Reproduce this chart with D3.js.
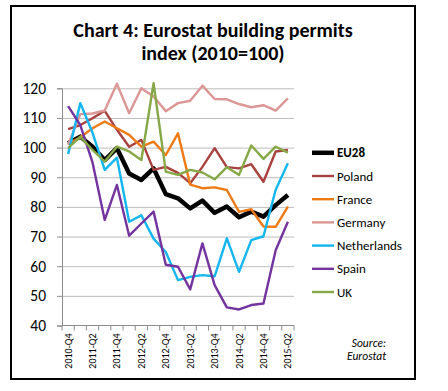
<!DOCTYPE html>
<html>
<head>
<meta charset="utf-8">
<script src="https://cdn.jsdelivr.net/npm/d3@7"></script>
<style>
  body { margin: 0; background: #fff; }
  text { font-family: Carlito, Lato, "Open Sans", sans-serif; fill: #000; }
</style>
</head>
<body>
<div id="chart"></div>
<script>
// data
const quarters = ["2010-Q4","2011-Q1","2011-Q2","2011-Q3","2011-Q4","2012-Q1","2012-Q2","2012-Q3","2012-Q4",
  "2013-Q1","2013-Q2","2013-Q3","2013-Q4","2014-Q1","2014-Q2","2014-Q3","2014-Q4","2015-Q1","2015-Q2"];
const eu28 = [101.5, 103.7, 100.3, 95.8, 99.8, 91.3, 89.1, 93.0, 84.3, 82.9, 79.5, 82.1, 78.0, 80.1, 76.5, 78.4, 76.7, 80.6, 84.0];
const poland = [106.2, 107.6, 109.9, 112.4, 106.0, 100.3, 102.6, 92.5, 93.5, 91.5, 88.0, 93.5, 99.8, 93.4, 93.0, 94.4, 88.5, 98.7, 99.2];
const france = [101.3, 103.5, 106.5, 108.8, 106.5, 104.3, 100.3, 102.0, 97.5, 104.8, 87.5, 86.3, 86.6, 85.7, 78.3, 79.2, 73.4, 73.3, 80.1];
const germany = [101.0, 111.3, 111.5, 112.5, 121.5, 111.6, 120.0, 117.2, 112.3, 115.0, 115.8, 120.9, 116.4, 116.3, 114.7, 113.6, 114.3, 112.5, 116.6];
const netherlands = [97.8, 115.0, 105.0, 92.5, 96.6, 75.0, 77.2, 69.3, 64.8, 55.3, 56.4, 57.0, 56.6, 69.4, 58.1, 68.8, 70.1, 85.8, 94.7];
const spain = [114.0, 107.6, 95.0, 75.6, 87.4, 70.3, 74.4, 78.4, 60.5, 59.8, 52.2, 67.7, 53.6, 46.1, 45.4, 46.9, 47.4, 65.4, 75.0];
const uk = [99.8, 103.7, 99.2, 95.3, 100.3, 98.7, 95.8, 121.7, 91.9, 90.8, 92.5, 91.6, 89.3, 93.4, 90.8, 100.7, 96.2, 100.3, 98.3];
const yTicks = [40, 50, 60, 70, 80, 90, 100, 110, 120];

const series = [
  {name: "EU28", values: eu28, color: "#000000", width: 4.5, bold: true},
  {name: "Poland", values: poland, color: "#A9413F", width: 2.4},
  {name: "France", values: france, color: "#EE7A16", width: 2.4},
  {name: "Germany", values: germany, color: "#DB9795", width: 2.4},
  {name: "Netherlands", values: netherlands, color: "#14B6F0", width: 2.4},
  {name: "Spain", values: spain, color: "#7334A0", width: 2.4},
  {name: "UK", values: uk, color: "#86A846", width: 2.4}
];

function makeChart() {
  let svgWidth = 448, svgHeight = 391;
  let plot = {left: 62, right: 294, top: 88.3, bottom: 325.5};

  let svg = d3.select("#chart").append("svg")
    .attr("width", svgWidth)
    .attr("height", svgHeight);

  // frame
  svg.append("rect")
    .attr("x", 11).attr("y", 6)
    .attr("width", 404).attr("height", 373)
    .attr("fill", "none").attr("stroke", "#000").attr("stroke-width", 2);

  // title
  let title = svg.append("text")
    .attr("text-anchor", "middle")
    .attr("font-weight", "bold")
    .attr("font-size", "20px");
  title.append("tspan").attr("x", 213).attr("y", 36.5).text("Chart 4: Eurostat building permits");
  title.append("tspan").attr("x", 213).attr("y", 59.5).text("index (2010=100)");

  let x = d3.scaleBand().domain(quarters).range([plot.left, plot.right]);
  let y = d3.scaleLinear().domain([40, 120]).range([plot.bottom, plot.top]);
  let cx = q => x(q) + x.bandwidth() / 2;

  // gridlines
  svg.append("g")
    .attr("transform", `translate(${plot.left},0)`)
    .call(d3.axisLeft(y).tickValues(yTicks.slice(1)).tickSize(-(plot.right - plot.left)).tickFormat(""))
    .call(g => g.select(".domain").remove())
    .call(g => g.selectAll("line").attr("stroke", "#BDBDBD").attr("stroke-width", 1));

  // y axis
  svg.append("g")
    .attr("transform", `translate(${plot.left},0)`)
    .call(d3.axisLeft(y).tickValues(yTicks).tickSize(5).tickPadding(11))
    .call(g => g.select(".domain").attr("stroke", "#8C8C8C"))
    .call(g => g.selectAll("line").attr("stroke", "#8C8C8C"))
    .call(g => g.selectAll("text").attr("font-size", "15.5px").attr("font-family", "Carlito, Lato, sans-serif").attr("fill", "#000"));

  // x axis: ticks between categories, labels every other quarter
  let xg = svg.append("g").attr("transform", `translate(0,${plot.bottom})`);
  xg.append("line")
    .attr("x1", plot.left).attr("x2", plot.right)
    .attr("stroke", "#8C8C8C");
  let bounds = quarters.map(q => x(q)).concat([x(quarters[quarters.length - 1]) + x.bandwidth()]);
  xg.selectAll("line.tk").data(bounds).enter().append("line")
    .attr("class", "tk")
    .attr("x1", d => d).attr("x2", d => d)
    .attr("y1", 0).attr("y2", 5)
    .attr("stroke", "#8C8C8C");
  xg.selectAll("text").data(quarters.filter((q, i) => i % 2 === 0)).enter().append("text")
    .attr("transform", d => `translate(${cx(d) + 3.5},8) rotate(-90)`)
    .attr("text-anchor", "end")
    .attr("font-family", "'Liberation Sans', Arial, sans-serif")
    .attr("font-size", "10px")
    .text(d => d);

  // lines
  let line = d3.line().x((d, i) => cx(quarters[i])).y(d => y(d));
  svg.append("g").selectAll("path").data(series).enter().append("path")
    .attr("d", d => line(d.values))
    .attr("fill", "none")
    .attr("stroke", d => d.color)
    .attr("stroke-width", d => d.width)
    .attr("stroke-linejoin", "round");

  // legend
  let legend = svg.append("g").selectAll("g").data(series).enter().append("g")
    .attr("transform", (d, i) => `translate(312,${152.8 + i * 23.2})`);
  legend.append("line")
    .attr("x1", 0).attr("x2", 22)
    .attr("stroke", d => d.color)
    .attr("stroke-width", d => d.bold ? 4.5 : 2.4);
  legend.append("text")
    .attr("x", 25)
    .attr("dy", "0.35em")
    .attr("font-size", "13px")
    .attr("font-weight", d => d.bold ? "bold" : "normal")
    .text(d => d.name);

  // source note
  let src = svg.append("text")
    .attr("text-anchor", "end")
    .attr("font-style", "italic")
    .attr("font-size", "11.5px");
  src.append("tspan").attr("x", 386).attr("y", 346.5).text("Source:");
  src.append("tspan").attr("x", 386).attr("y", 359.5).text("Eurostat");
}

makeChart();
</script>
</body>
</html>
